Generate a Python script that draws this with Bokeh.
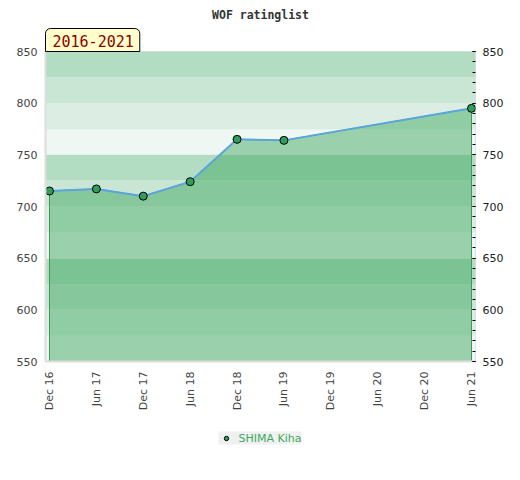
import math
from bokeh.plotting import figure
from bokeh.layouts import column
from bokeh.models import (Range1d, LinearAxis, FixedTicker, SingleIntervalTicker,
                          Title, Legend, LegendItem)
from bokeh.embed import file_html
from bokeh.resources import INLINE

chart_title = "WOF ratinglist"
period = "2016-2021"
player = "SHIMA Kiha"
tick_labels = ["Dec 16", "Jun 17", "Dec 17", "Jun 18", "Dec 18",
               "Jun 19", "Dec 19", "Jun 20", "Dec 20", "Jun 21"]
dates = ["Dec 16", "Jun 17", "Dec 17", "Jun 18", "Dec 18", "Jun 19", "Jun 21"]
ratings = [715, 717, 710, 724, 765, 764, 795]
y_min, y_max = 550, 850

xs = [tick_labels.index(d) for d in dates]
pad = 0.085

MARKER = dict(size=8, fill_color="#2f9e5c", line_color="black", line_width=1)

p = figure(frame_width=430, frame_height=310, output_backend="svg", toolbar_location=None,
           x_range=Range1d(-pad, len(tick_labels) - 1 + pad),
           y_range=Range1d(y_min, y_max),
           min_border_left=45, min_border_right=45, min_border_top=50,
           min_border_bottom=56)
p.background_fill_color = "white"
p.outline_line_color = "#dddddd"
p.xgrid.visible = False
p.ygrid.visible = False

# background bands
band_cols = ["#eef7f1", "#dceee3", "#c9e6d4", "#b3ddc2"]
for i, y0 in enumerate(range(y_min, y_max, 25)):
    p.hstrip(y0=[y0], y1=[y0 + 25], fill_color=band_cols[i % 4], line_color=None)

# area
p.patch(x=[xs[0]] + xs + [xs[-1]], y=[y_min] + ratings + [y_min],
        fill_color="#3ca65e", fill_alpha=0.47, line_color="#3a9a5a", line_width=1)
p.line(xs, ratings, line_color="#5aa5dc", line_width=2)
p.scatter(xs, ratings, **MARKER)

# title
p.title.text = chart_title
p.title.align = "center"
p.title.text_font = "DejaVu Sans Mono"
p.title.text_font_size = "11.5px"
p.title.text_color = "#333333"
p.title.standoff = 10

# period box, right above the frame
pt = Title(text=period, align="left", text_font="DejaVu Sans Mono",
           text_font_size="15px", text_font_style="normal", text_color="#8b0000",
           background_fill_color="#ffffcc", border_line_color="black",
           border_line_width=1, padding=dict(left=7, right=6, top=6, bottom=5),
           standoff=0,
           border_radius=dict(top_left=5, top_right=5, bottom_right=0, bottom_left=0))
p.add_layout(pt, "above")

# axes
ax = p.xaxis[0]
ax.ticker = FixedTicker(ticks=list(range(len(tick_labels))))
ax.major_label_overrides = {i: t for i, t in enumerate(tick_labels)}
ax.major_label_orientation = math.pi / 2
ax.major_tick_in = 0
ax.major_tick_out = 0
ax.minor_tick_in = 0
ax.minor_tick_out = 0
ax.axis_line_color = "#dddddd"
ax.axis_line_width = 2
ax.major_label_standoff = 10
ax.major_label_text_font = "DejaVu Sans"
ax.major_label_text_font_size = "11px"
ax.major_label_text_color = "#444444"

ly = p.yaxis[0]
ly.ticker = SingleIntervalTicker(interval=50, num_minor_ticks=5)
ly.major_tick_in = 0
ly.major_tick_out = 0
ly.minor_tick_in = 0
ly.minor_tick_out = 0
ly.axis_line_color = "#dddddd"
ly.axis_line_width = 2
ly.major_label_standoff = 8
ly.major_label_text_font = "DejaVu Sans"
ly.major_label_text_font_size = "11px"
ly.major_label_text_color = "#444444"

ry = LinearAxis(ticker=SingleIntervalTicker(interval=50, num_minor_ticks=5))
ry.major_tick_in = 3
ry.major_tick_out = 0
ry.minor_tick_in = 3
ry.minor_tick_out = 0
ry.major_tick_line_color = "black"
ry.minor_tick_line_color = "black"
ry.axis_line_color = None
ry.major_label_standoff = 7
ry.major_label_text_font = "DejaVu Sans"
ry.major_label_text_font_size = "11px"
ry.major_label_text_color = "#222222"
p.add_layout(ry, "right")

# legend strip below the chart (its sample marker lies outside this strip's view)
pl = figure(width=520, height=42, output_backend="svg", toolbar_location=None,
            min_border=0, x_range=Range1d(0, 1), y_range=Range1d(0, 1))
pl.axis.visible = False
pl.grid.visible = False
pl.outline_line_color = None
lr = pl.scatter(x=xs[:1], y=ratings[:1], **MARKER)
legend = Legend(items=[LegendItem(label=player, renderers=[lr])], location="center",
                orientation="horizontal",
                background_fill_color="#f0f0f0", background_fill_alpha=1,
                border_line_color=None, padding=7, margin=0,
                glyph_width=15, glyph_height=11, label_height=11, label_standoff=5,
                label_text_font="DejaVu Sans", label_text_font_size="11px",
                label_text_color="#3daa63")
pl.add_layout(legend)

open("out.html", "w").write(file_html(column(p, pl, spacing=0), INLINE))
